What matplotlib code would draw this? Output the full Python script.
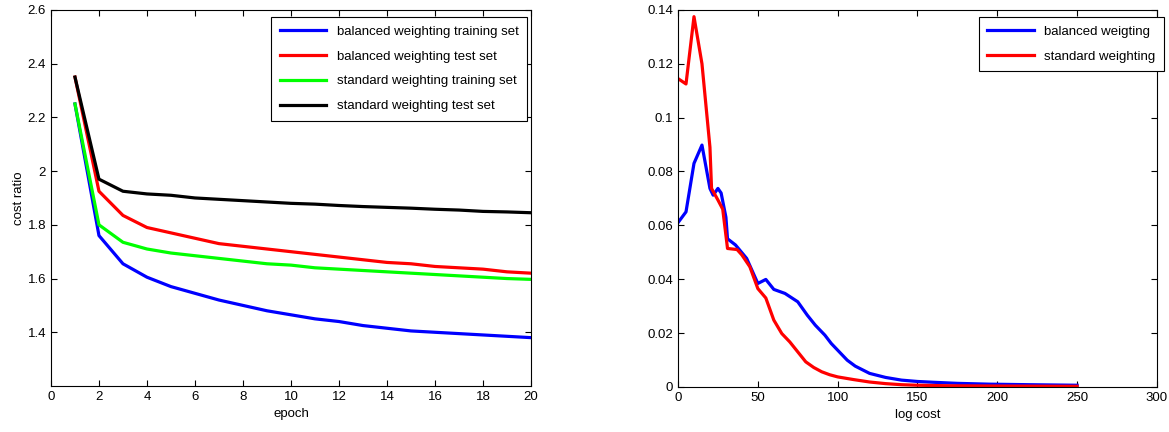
import numpy as np
import matplotlib.pyplot as plt

plt.rcParams['font.family'] = ['Liberation Sans', 'DejaVu Sans']
plt.rcParams['font.size'] = 9.5

# left panel: cost ratio per epoch
epochs = list(range(1, 21))
bal_train = [2.25, 1.76, 1.655, 1.605, 1.57, 1.545, 1.52, 1.50, 1.48, 1.465,
             1.45, 1.44, 1.425, 1.415, 1.405, 1.40, 1.395, 1.39, 1.385, 1.38]
bal_test = [2.35, 1.925, 1.835, 1.79, 1.77, 1.75, 1.73, 1.72, 1.71, 1.70,
            1.69, 1.68, 1.67, 1.66, 1.655, 1.645, 1.64, 1.635, 1.625, 1.62]
std_train = [2.25, 1.80, 1.735, 1.71, 1.695, 1.685, 1.675, 1.665, 1.655, 1.65,
             1.64, 1.635, 1.63, 1.625, 1.62, 1.615, 1.61, 1.605, 1.60, 1.597]
std_test = [2.35, 1.97, 1.925, 1.915, 1.91, 1.90, 1.895, 1.89, 1.885, 1.88,
            1.877, 1.872, 1.868, 1.865, 1.862, 1.858, 1.855, 1.85, 1.848, 1.845]

# right panel: log cost distribution
bal_x = [0, 5, 10, 15, 20, 22, 25, 27, 30, 31, 36, 43, 50, 55, 60, 67, 75, 81,
         86, 92, 96, 101, 106, 111, 120, 130, 140, 150, 160, 175, 195, 220, 250]
bal_y = [0.061, 0.065, 0.083, 0.0898, 0.0737, 0.0712, 0.0737, 0.072, 0.063,
         0.055, 0.0527, 0.0477, 0.0384, 0.0399, 0.0362, 0.0347, 0.0316, 0.0266,
         0.0229, 0.0192, 0.0161, 0.013, 0.0099, 0.0077, 0.005, 0.0035, 0.0025,
         0.002, 0.0017, 0.0013, 0.001, 0.0008, 0.0006]
std_x = [0, 5, 10, 15, 20, 21, 25, 28, 31, 37, 40, 45, 50, 55, 60, 65, 70, 75,
         80, 85, 90, 95, 100, 110, 120, 130, 140, 150, 170, 200, 250]
std_y = [0.1145, 0.1125, 0.1375, 0.120, 0.089, 0.0737, 0.0694, 0.066, 0.0514,
         0.051, 0.049, 0.0446, 0.0365, 0.033, 0.0248, 0.0198, 0.0167, 0.013,
         0.0093, 0.0072, 0.0056, 0.0045, 0.0037, 0.0027, 0.0018, 0.0012, 0.0008,
         0.0006, 0.0004, 0.0003, 0.0002]

W, H = 1169, 432
fig = plt.figure(figsize=(W / 100, H / 100), dpi=100)
ax1 = fig.add_axes([0.0436, 0.1065, 0.4106, 0.8705])
ax2 = fig.add_axes([0.58, 0.1045, 0.4097, 0.8725])

lw = 2.3
ax1.plot(epochs, bal_train, color='#0000ff', lw=lw, label='balanced weighting training set')
ax1.plot(epochs, bal_test, color='#ff0000', lw=lw, label='balanced weighting test set')
ax1.plot(epochs, std_train, color='#00ff00', lw=lw, label='standard weighting training set')
ax1.plot(epochs, std_test, color='#000000', lw=lw, label='standard weighting test set')
ax1.set_xlim(0, 20)
ax1.set_ylim(1.2, 2.6)
ax1.set_xticks(range(0, 21, 2))
ax1.set_yticks([1.4, 1.6, 1.8, 2.0, 2.2, 2.4, 2.6])
ax1.set_yticklabels(['1.4', '1.6', '1.8', '2', '2.2', '2.4', '2.6'])
ax1.set_xlabel('epoch')
ax1.set_ylabel('cost ratio', labelpad=2)

ax2.plot(bal_x, bal_y, color='#0000ff', lw=lw, label='balanced weigting')
ax2.plot(std_x, std_y, color='#ff0000', lw=lw, label='standard weighting')
ax2.set_xlim(0, 300)
ax2.set_ylim(0, 0.14)
ax2.set_xticks(range(0, 301, 50))
ax2.set_yticks([0, 0.02, 0.04, 0.06, 0.08, 0.1, 0.12, 0.14])
ax2.set_yticklabels(['0', '0.02', '0.04', '0.06', '0.08', '0.1', '0.12', '0.14'])
ax2.set_xlabel('log cost')

anchors = [(527 / W, 1 - 17 / H), (1164 / W, 1 - 17 / H)]
for ax, anchor in zip((ax1, ax2), anchors):
    ax.tick_params(direction='in', top=True, right=True, length=4, width=0.8,
                   labelsize=9.5)
    for s in ax.spines.values():
        s.set_linewidth(0.8)
    leg = ax.legend(loc='upper right', bbox_to_anchor=anchor,
                    bbox_transform=fig.transFigure, borderaxespad=0,
                    fancybox=False, edgecolor='black', framealpha=1,
                    handlelength=3.5, labelspacing=0.95, borderpad=0.65,
                    fontsize=9.5)
    leg.get_frame().set_linewidth(0.8)

fig.savefig('out.png', dpi=100)
